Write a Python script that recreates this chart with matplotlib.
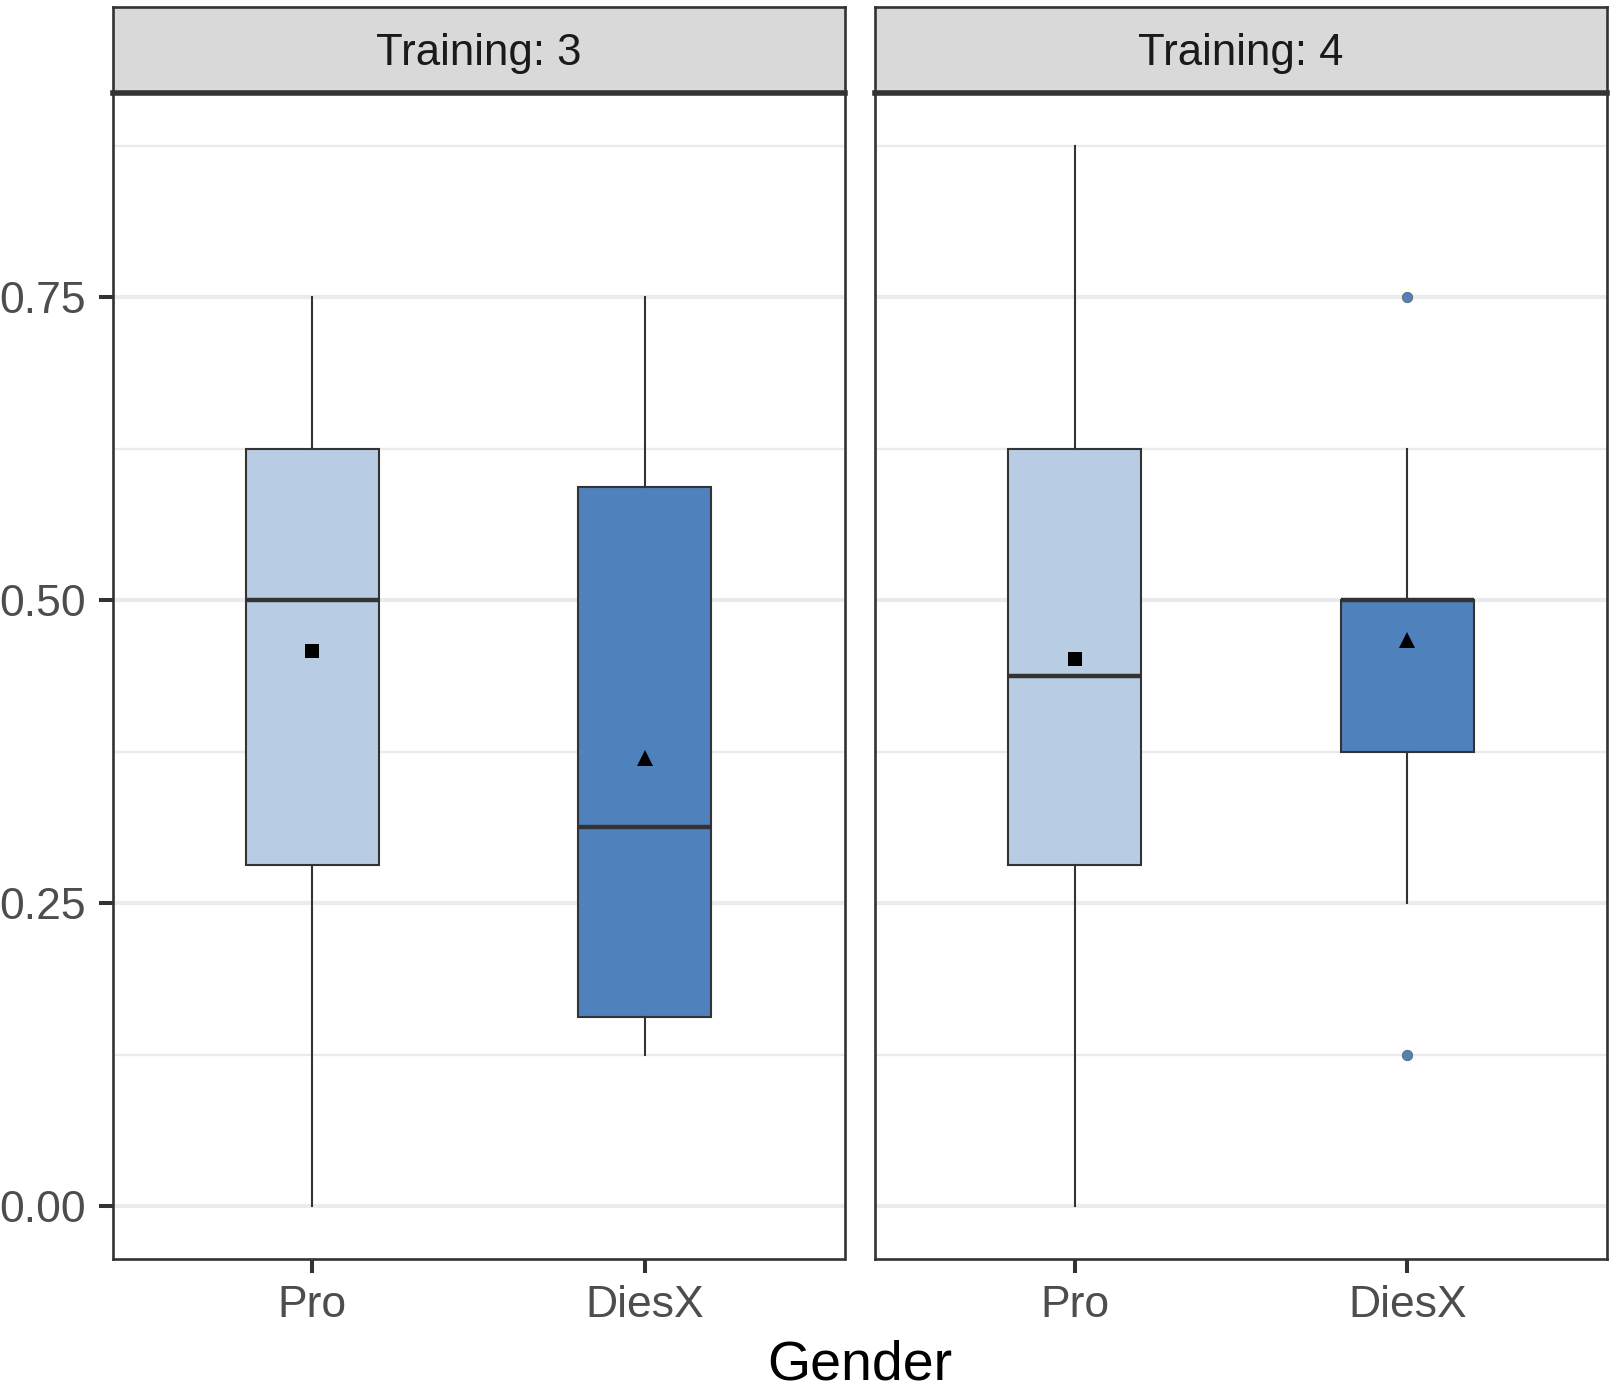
import matplotlib
matplotlib.use("Agg")
import matplotlib.pyplot as plt

plt.rcParams['font.family'] = ['Liberation Sans', 'DejaVu Sans']

# ---- data ----
panels = ["Training: 3", "Training: 4"]
genders = ["Pro", "DiesX"]
whislo = [[0.0, 0.125], [0.0, 0.25]]
q1 = [[0.28125, 0.15625], [0.28125, 0.375]]
med = [[0.5, 0.3125], [0.4375, 0.5]]
q3 = [[0.625, 0.59375], [0.625, 0.5]]
whishi = [[0.75, 0.75], [0.875, 0.625]]
means = [[0.458, 0.370], [0.451, 0.467]]
outliers = [[[], []], [[], [0.75, 0.125]]]
yticks = [0.0, 0.25, 0.5, 0.75]
yticklabels = ["0.00", "0.25", "0.50", "0.75"]
minor_ticks = [0.125, 0.375, 0.625, 0.875]

box_colors = ["#B8CCE4", "#4F81BD"]
mean_markers = ["s", "^"]
mean_sizes = [9.5, 12]

W, H = 1613, 1390
fig = plt.figure(figsize=(W / 100, H / 100), dpi=100)

panel_x = [112.5, 875.0]
panel_w = 732.0
panel_top = 92.7
panel_bot = 1259.0
strip_top = 7.3

dark = "#333333"

for p in range(2):
    x0 = panel_x[p] / W
    ax = fig.add_axes([x0, (H - panel_bot) / H, panel_w / W, (panel_bot - panel_top) / H])
    sax = fig.add_axes([x0, (H - panel_top) / H, panel_w / W, (panel_top - strip_top) / H])

    for g in range(2):
        stats = [dict(whislo=whislo[p][g], q1=q1[p][g], med=med[p][g], q3=q3[p][g],
                      whishi=whishi[p][g], mean=means[p][g], fliers=outliers[p][g])]
        ax.bxp(stats, positions=[g + 1], widths=0.4, patch_artist=True,
               showcaps=False, showmeans=True, showfliers=True, manage_ticks=False,
               boxprops=dict(facecolor=box_colors[g], edgecolor=dark, linewidth=1.5),
               medianprops=dict(color=dark, linewidth=3.2),
               whiskerprops=dict(color=dark, linewidth=1.5),
               meanprops=dict(marker=mean_markers[g], markerfacecolor='black',
                              markeredgecolor='black', markersize=mean_sizes[g],
                              markeredgewidth=0),
               flierprops=dict(marker='o', markerfacecolor='#4F81BD',
                               markeredgecolor='#666666', markersize=7.5,
                               markeredgewidth=0.6))

    ax.set_xlim(0.4, 2.6)
    ax.set_ylim(-0.04375, 0.91875)
    ax.set_axisbelow(True)
    ax.set_yticks(yticks)
    ax.set_yticks(minor_ticks, minor=True)
    ax.grid(axis='y', which='major', color='#EBEBEB', linewidth=3.0, zorder=0)
    ax.grid(axis='y', which='minor', color='#EBEBEB', linewidth=1.7, zorder=0)
    ax.grid(axis='x', visible=False)
    ax.set_xticks([1, 2])
    ax.set_xticklabels(genders)
    ax.tick_params(axis='both', which='major', length=10, width=2.9, color=dark,
                   labelsize=32, labelcolor='#4D4D4D', pad=9)
    ax.tick_params(axis='y', which='minor', length=0)
    if p == 0:
        ax.set_yticklabels(yticklabels)
    else:
        ax.tick_params(axis='y', which='major', length=0, labelleft=False)
    for s in ax.spines.values():
        s.set_color(dark)
        s.set_linewidth(1.9)

    sax.set_facecolor('#D9D9D9')
    sax.set_xticks([])
    sax.set_yticks([])
    for s in sax.spines.values():
        s.set_color(dark)
        s.set_linewidth(1.9)
    sax.spines['bottom'].set_linewidth(4.0)
    sax.text(0.5, 0.324, panels[p], transform=sax.transAxes, ha='center', va='baseline',
             fontsize=31.5, color='#1A1A1A')

fig.text(860 / W, 1 - 1366 / H, "Gender", ha='center', va='center', fontsize=40, color='black')

fig.savefig("out.png", dpi=100)
